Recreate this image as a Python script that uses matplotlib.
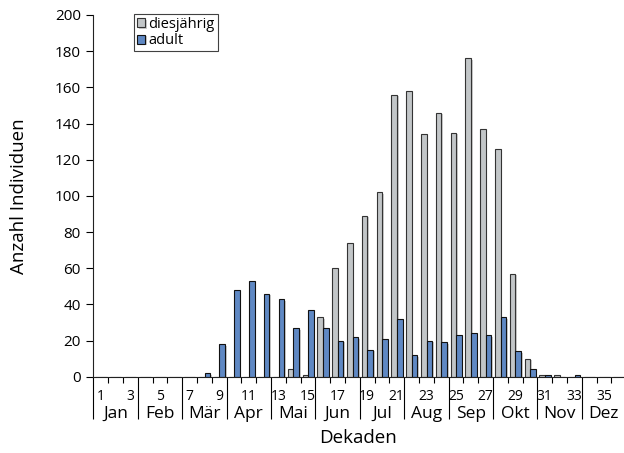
import matplotlib
matplotlib.use("Agg")
import matplotlib.pyplot as plt
import matplotlib.patheffects as pe
import numpy as np

plt.rcParams['font.family'] = ['Open Sans', 'DejaVu Sans']

# Dekaden 1..36
dekaden = np.arange(1, 37)
diesjaehrig = [0, 0, 0, 0, 0, 0, 0, 0, 0, 0, 0, 0, 0, 4, 1, 33, 60, 74,
               89, 102, 156, 158, 134, 146, 135, 176, 137, 126, 57, 10, 1, 1,
               0, 0, 0, 0]
adult = [0, 0, 0, 0, 0, 0, 0, 2, 18, 48, 53, 46, 43, 27, 37, 27, 20, 22,
         15, 21, 32, 12, 20, 19, 23, 24, 23, 33, 14, 4, 1, 0,
         1, 0, 0, 0]
monate = ["Jan", "Feb", "Mär", "Apr", "Mai", "Jun",
          "Jul", "Aug", "Sep", "Okt", "Nov", "Dez"]
dekaden_labels = [str(d) for d in dekaden if d % 2 == 1]

W, H = 624, 453
fig = plt.figure(figsize=(W / 100, H / 100), dpi=100)
x0, x1 = 93.3, 626.1
y0, y1 = 376.7, 15.0
ax = fig.add_axes([x0 / W, (H - y0) / H, (x1 - x0) / W, (y0 - y1) / H])

bw = 0.38
shadow = [pe.SimplePatchShadow(offset=(1.2, -1.2), shadow_rgbFace="#999999", alpha=0.5), pe.Normal()]
b1 = ax.bar(dekaden - 1 + 0.33, diesjaehrig, width=bw, color="#c2c6c8",
            edgecolor="#333333", linewidth=0.8, label="diesjährig")
b2 = ax.bar(dekaden - 1 + 0.71, adult, width=bw, color="#5f88c3",
            edgecolor="#111111", linewidth=0.8, label="adult")
for p in list(b1) + list(b2):
    p.set_path_effects(shadow)

ax.set_xlim(0, 36)
ax.set_ylim(0, 200)
ax.set_yticks(range(0, 201, 20))
ax.tick_params(axis="y", direction="out", length=5, width=0.8, labelsize=11, pad=4)

for s in ["top", "right"]:
    ax.spines[s].set_visible(False)
for s in ["left", "bottom"]:
    ax.spines[s].set_linewidth(0.8)
    ax.spines[s].set_color("#222222")

# Dekaden-Grenzen als kurze Ticks, Monatsgrenzen lang
ax.set_xticks(np.arange(0, 37, 3))
ax.set_xticklabels([])
ax.set_xticks(np.arange(0, 37, 1), minor=True)
ax.tick_params(axis="x", which="minor", direction="out", length=4, width=0.8)
ax.tick_params(axis="x", which="major", direction="out", length=30.5, width=0.8)

# Beschriftungen in Pixelpositionen (Grundlinie)
for lbl in dekaden_labels:
    d = int(lbl)
    xd = ax.transData.transform((d - 0.5, 0))[0] / W
    fig.text(xd, 1 - 400.5 / H, lbl, ha="center", va="baseline", fontsize=10)
for i, m in enumerate(monate):
    xm = ax.transData.transform((i * 3 + 1.5, 0))[0] / W
    fig.text(xm, 1 - 418.3 / H, m, ha="center", va="baseline", fontsize=12.5)

fig.text(19 / W, 1 - 196 / H, "Anzahl Individuen", rotation=90, ha="center",
         va="center", fontsize=13.5)
fig.text(358 / W, 1 - 443 / H, "Dekaden", ha="center", va="baseline", fontsize=13.5)

leg = fig.legend(handles=[b1, b2], loc="upper left",
                 bbox_to_anchor=(134 / W, 1 - 14 / H), fontsize=10.5,
                 frameon=True, fancybox=False, handlelength=0.55, handleheight=0.55,
                 handletextpad=0.25, borderpad=0.2, labelspacing=0.1,
                 borderaxespad=0)
leg.get_frame().set_edgecolor("#111111")
leg.get_frame().set_linewidth(0.8)

fig.savefig("out.png", dpi=100)
